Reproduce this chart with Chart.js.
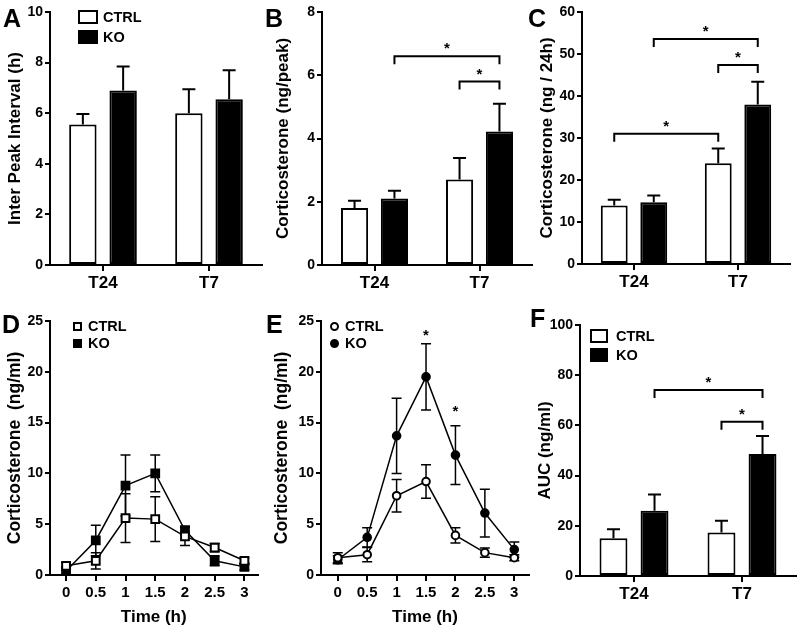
<!DOCTYPE html>
<html>
<head>
<title>Corticosterone panels</title>
<script src="https://cdn.jsdelivr.net/npm/chart.js@4"></script>
<style>
  body { margin: 0; background: #fff; font-family: 'Liberation Sans', Arial, sans-serif; font-weight: bold; color: #000; }
  #fig { position: relative; width: 797px; height: 630px; overflow: hidden; background: #fff; }
  canvas { position: absolute; }
  .letter { position: absolute; font-size: 25px; line-height: 25px; }
  .leg { position: absolute; font-size: 14.5px; line-height: 20px; height: 20px; display: flex; align-items: center; }
  .box { box-sizing: border-box; border: 2px solid #000; background: #fff; }
  .box.ko { background: #000; }
  .dot { border-radius: 50%; }
</style>
</head>
<body>
<div id="fig">
  <canvas id="cA" width="265" height="300" style="left:0;top:0"></canvas>
  <canvas id="cB" width="268" height="300" style="left:265px;top:0"></canvas>
  <canvas id="cC" width="267" height="300" style="left:530px;top:0"></canvas>
  <canvas id="cD" width="265" height="330" style="left:0;top:300px"></canvas>
  <canvas id="cE" width="270" height="330" style="left:265px;top:300px"></canvas>
  <canvas id="cF" width="267" height="330" style="left:530px;top:300px"></canvas>

  <div class="letter" style="left:3px;top:6px">A</div>
  <div class="letter" style="left:265px;top:6px">B</div>
  <div class="letter" style="left:528px;top:6px">C</div>
  <div class="letter" style="left:2px;top:312px">D</div>
  <div class="letter" style="left:266px;top:312px">E</div>
  <div class="letter" style="left:530px;top:306px">F</div>

  <div class="leg" style="left:78px;top:7px"><div class="box" style="width:20px;height:14px;margin-right:5px"></div>CTRL</div>
  <div class="leg" style="left:78px;top:27px"><div class="box ko" style="width:20px;height:14px;margin-right:5px"></div>KO</div>

  <div class="leg" style="left:73px;top:316px"><div class="box" style="width:9px;height:9px;margin-right:6px"></div>CTRL</div>
  <div class="leg" style="left:73px;top:333px"><div class="box ko" style="width:9px;height:9px;margin-right:6px"></div>KO</div>

  <div class="leg" style="left:330px;top:316px"><div class="box dot" style="width:9px;height:9px;margin-right:6px"></div>CTRL</div>
  <div class="leg" style="left:330px;top:333px"><div class="box dot ko" style="width:9px;height:9px;margin-right:6px"></div>KO</div>

  <div class="leg" style="left:590px;top:326px"><div class="box" style="width:18px;height:14px;margin-right:8px"></div>CTRL</div>
  <div class="leg" style="left:590px;top:345px"><div class="box ko" style="width:18px;height:14px;margin-right:8px"></div>KO</div>
</div>

<script>
  const groups = ['T24', 'T7'];
  const seriesNames = ['CTRL', 'KO'];

  // A - inter peak interval (h)
  const aCtrl = [5.55, 6.0];
  const aCtrlErr = [0.42, 0.95];
  const aKo = [6.9, 6.55];
  const aKoErr = [0.95, 1.15];

  // B - corticosterone per peak
  const bCtrl = [1.8, 2.7];
  const bCtrlErr = [0.23, 0.68];
  const bKo = [2.1, 4.22];
  const bKoErr = [0.25, 0.88];
  const bBrackets = [
    { from: [1, 0], to: [1, 1], y: 6.6 },
    { from: [0, 1], to: [1, 1], y: 5.8 }
  ];

  // C - corticosterone per 24h
  const cCtrl = [13.9, 24.0];
  const cCtrlErr = [1.4, 3.5];
  const cKo = [14.7, 38.0];
  const cKoErr = [1.6, 5.4];
  const cBrackets = [
    { from: [1, 0], to: [1, 1], y: 53.6 },
    { from: [0, 1], to: [1, 1], y: 47.4 },
    { from: [0, 0], to: [0, 1], y: 31.0 }
  ];

  // D, E - time course
  const timePoints = [0, 0.5, 1, 1.5, 2, 2.5, 3];
  const dCtrl = [0.9, 1.4, 5.6, 5.5, 3.8, 2.7, 1.4];
  const dCtrlErr = [0.3, 0.8, 2.4, 2.2, 0.9, 0.4, 0.3];
  const dKo = [0.4, 3.4, 8.8, 10.0, 4.4, 1.4, 0.8];
  const dKoErr = [0.3, 1.5, 3.0, 1.8, 0.4, 0.5, 0.3];

  const eCtrl = [1.7, 2.0, 7.8, 9.2, 3.9, 2.2, 1.7];
  const eCtrlErr = [0.5, 0.7, 1.6, 1.65, 0.75, 0.45, 0.3];
  const eKo = [1.5, 3.7, 13.7, 19.5, 11.8, 6.1, 2.5];
  const eKoErr = [0.4, 0.95, 3.7, 3.25, 2.9, 2.35, 0.75];
  const eStars = [{ x: 1.5, y: 24.0 }, { x: 2, y: 16.5 }];

  // F - AUC
  const fCtrl = [15.0, 17.3];
  const fCtrlErr = [3.6, 4.7];
  const fKo = [26.0, 48.6];
  const fKoErr = [6.5, 7.2];
  const fBrackets = [
    { from: [1, 0], to: [1, 1], y: 74.1 },
    { from: [0, 1], to: [1, 1], y: 61.5 }
  ];

  Chart.defaults.font.family = "'Liberation Sans', Arial, sans-serif";
  Chart.defaults.font.weight = 'bold';
  Chart.defaults.color = '#000';
  Chart.defaults.animation = false;

  function drawStar(ctx, x, y) {
    ctx.font = "bold 15px " + Chart.defaults.font.family;
    ctx.textAlign = 'center';
    ctx.textBaseline = 'alphabetic';
    ctx.fillText('*', x, y + 9);
  }

  // error bars: bars get the upper half only, points get both
  const errorBars = {
    id: 'errorBars',
    beforeDatasetsDraw(chart) {
      const ctx = chart.ctx, ys = chart.scales.y;
      const isBar = chart.config.type === 'bar';
      ctx.save();
      ctx.strokeStyle = '#000';
      ctx.lineWidth = isBar ? 2 : 1.5;
      const cap = isBar ? 6.5 : 5;
      chart.data.datasets.forEach((ds, i) => {
        chart.getDatasetMeta(i).data.forEach((el, j) => {
          const d = ds.data[j];
          const v = typeof d === 'number' ? d : d.y;
          const e = ds.errors[j];
          const top = ys.getPixelForValue(v + e);
          const bot = isBar ? el.y : ys.getPixelForValue(v - e);
          ctx.beginPath();
          ctx.moveTo(el.x, bot); ctx.lineTo(el.x, top);
          ctx.moveTo(el.x - cap, top); ctx.lineTo(el.x + cap, top);
          if (!isBar) { ctx.moveTo(el.x - cap, bot); ctx.lineTo(el.x + cap, bot); }
          ctx.stroke();
        });
      });
      ctx.restore();
    }
  };

  function marks(brackets, stars) {
    return {
      id: 'marks',
      afterDatasetsDraw(chart) {
        const ctx = chart.ctx, ys = chart.scales.y, xs = chart.scales.x;
        ctx.save();
        ctx.strokeStyle = '#000';
        ctx.fillStyle = '#000';
        ctx.lineWidth = 2;
        brackets.forEach(b => {
          const x1 = chart.getDatasetMeta(b.from[0]).data[b.from[1]].x;
          const x2 = chart.getDatasetMeta(b.to[0]).data[b.to[1]].x;
          const y = ys.getPixelForValue(b.y);
          ctx.beginPath();
          ctx.moveTo(x1, y + 8); ctx.lineTo(x1, y); ctx.lineTo(x2, y); ctx.lineTo(x2, y + 8);
          ctx.stroke();
          drawStar(ctx, (x1 + x2) / 2, y - 12);
        });
        stars.forEach(s => drawStar(ctx, xs.getPixelForValue(s.x), ys.getPixelForValue(s.y)));
        ctx.restore();
      }
    };
  }

  function axis(tickLen) {
    return {
      grid: { drawOnChartArea: false, color: '#000', lineWidth: 2, tickLength: tickLen },
      border: { color: '#000', width: 2 }
    };
  }

  function barChart(id, box, ctrl, ctrlErr, ko, koErr, yMax, step, title, brackets) {
    const bar = { borderColor: '#000', borderWidth: 2, borderSkipped: false, categoryPercentage: 0.76, barPercentage: 0.68 };
    new Chart(document.getElementById(id), {
      type: 'bar',
      data: {
        labels: groups,
        datasets: [
          Object.assign({ label: seriesNames[0], data: ctrl, errors: ctrlErr, backgroundColor: '#fff' }, bar),
          Object.assign({ label: seriesNames[1], data: ko, errors: koErr, backgroundColor: '#000' }, bar)
        ]
      },
      options: {
        responsive: false,
        layout: { padding: { top: box.top, right: box.right, left: 0, bottom: 0 } },
        plugins: { legend: { display: false }, tooltip: { enabled: false } },
        scales: {
          x: Object.assign(axis(6), {
            offset: true,
            grid: { drawOnChartArea: false, offset: false, color: '#000', lineWidth: 2, tickLength: 6 },
            ticks: { font: { size: 17 }, padding: 2 },
            afterFit: s => { s.height = box.xh; }
          }),
          y: Object.assign(axis(5), {
            min: 0, max: yMax,
            ticks: { stepSize: step, font: { size: 14 }, padding: 2 },
            title: { display: true, text: title, font: { size: 17 }, padding: { top: box.tp, bottom: 0 } },
            afterFit: s => { s.width = box.yw; }
          })
        }
      },
      plugins: [errorBars, marks(brackets, [])]
    });
  }

  function lineChart(id, box, ctrl, ctrlErr, ko, koErr, shape, stars) {
    const pts = arr => timePoints.map((t, i) => ({ x: t, y: arr[i] }));
    const line = { borderColor: '#000', borderWidth: 1.5, pointStyle: shape, pointRadius: shape === 'rect' ? 5.5 : 3.8, pointBorderColor: '#000', pointBorderWidth: 2, tension: 0 };
    new Chart(document.getElementById(id), {
      type: 'line',
      data: {
        datasets: [
          Object.assign({ label: seriesNames[0], data: pts(ctrl), errors: ctrlErr, pointBackgroundColor: '#fff' }, line),
          Object.assign({ label: seriesNames[1], data: pts(ko), errors: koErr, pointBackgroundColor: '#000' }, line)
        ]
      },
      options: {
        responsive: false,
        layout: { padding: { top: box.top, right: box.right, left: 0, bottom: 0 } },
        plugins: { legend: { display: false }, tooltip: { enabled: false } },
        scales: {
          x: Object.assign(axis(6), {
            type: 'linear', min: box.xmin, max: box.xmax,
            afterBuildTicks: s => { s.ticks = timePoints.map(v => ({ value: v })); },
            ticks: { font: { size: 15 }, padding: 3, autoSkip: false, maxRotation: 0, callback: v => String(v) },
            title: { display: true, text: 'Time (h)', font: { size: 17 }, padding: { top: 0, bottom: 2 } },
            afterFit: s => { s.height = box.xh; }
          }),
          y: Object.assign(axis(5), {
            min: 0, max: 25,
            ticks: { stepSize: 5, font: { size: 14 }, padding: 2 },
            title: { display: true, text: 'Corticosterone  (ng/ml)', font: { size: 17.5 }, padding: { top: box.tp, bottom: 0 } },
            afterFit: s => { s.width = box.yw; }
          })
        }
      },
      plugins: [errorBars, marks([], stars)]
    });
  }

  barChart('cA', { yw: 50, top: 12, right: 3, xh: 35, tp: 5 }, aCtrl, aCtrlErr, aKo, aKoErr, 10, 2, 'Inter Peak Interval (h)', []);
  barChart('cB', { yw: 57, top: 12, right: 1, xh: 35, tp: 8 }, bCtrl, bCtrlErr, bKo, bKoErr, 8, 2, 'Corticosterone (ng/peak)', bBrackets);
  barChart('cC', { yw: 52, top: 12, right: 7, xh: 36, tp: 7 }, cCtrl, cCtrlErr, cKo, cKoErr, 60, 10, 'Corticosterone (ng / 24h)', cBrackets);
  lineChart('cD', { yw: 50, top: 21, right: 5, xh: 55, tp: 5, xmin: -0.27, xmax: 3.22 }, dCtrl, dCtrlErr, dKo, dKoErr, 'rect', []);
  lineChart('cE', { yw: 56, top: 21, right: 3, xh: 55, tp: 7, xmin: -0.285, xmax: 3.25 }, eCtrl, eCtrlErr, eKo, eKoErr, 'circle', eStars);
  barChart('cF', { yw: 50, top: 25, right: 1, xh: 54, tp: 5 }, fCtrl, fCtrlErr, fKo, fKoErr, 100, 20, 'AUC (ng/ml)', fBrackets);
</script>
</body>
</html>
